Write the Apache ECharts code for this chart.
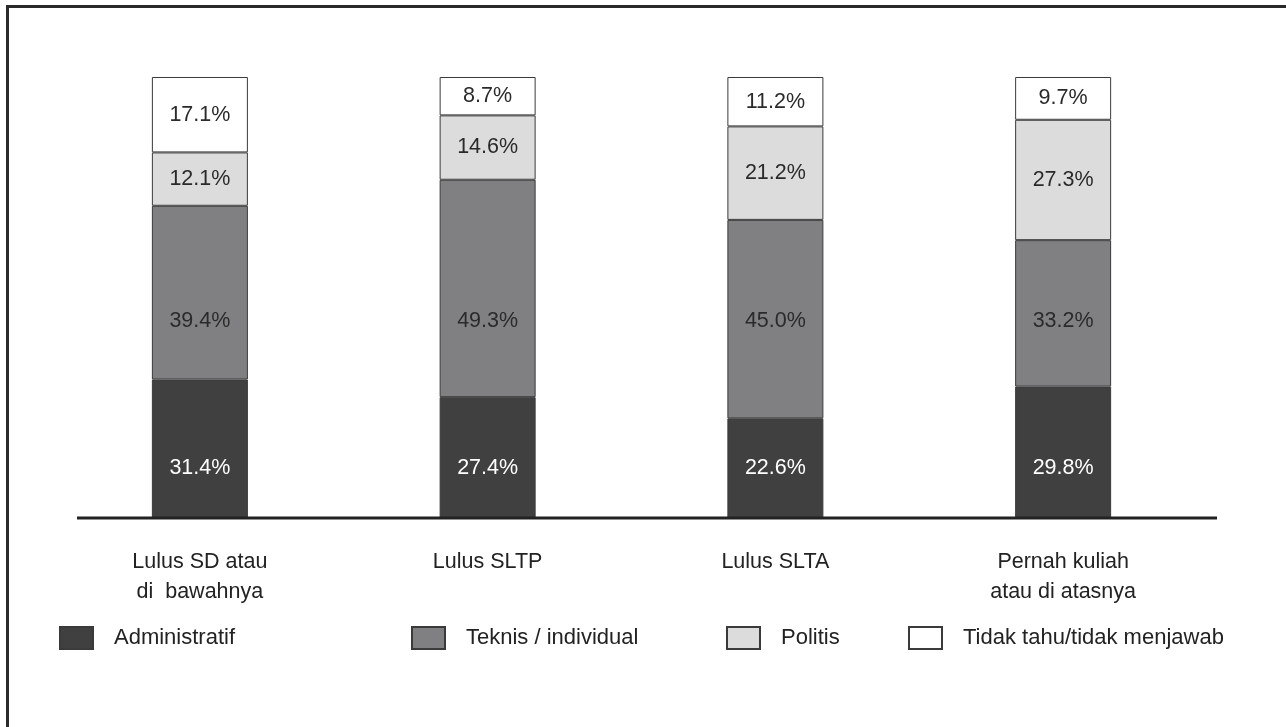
<!DOCTYPE html>
<html>
<head>
<meta charset="utf-8">
<script src="https://cdn.jsdelivr.net/npm/echarts@6/dist/echarts.min.js"></script>
<style>
  html, body { margin: 0; padding: 0; background: #fff; }
  #chart { width: 1286px; height: 727px; }
</style>
</head>
<body>
<div id="chart"></div>
<script>
// data (each column adds up to 100%)
const categories = ["Lulus SD atau\ndi  bawahnya", "Lulus SLTP", "Lulus SLTA", "Pernah kuliah\natau di atasnya"];
const administratif = [31.4, 27.4, 22.6, 29.8];
const teknis = [39.4, 49.3, 45.0, 33.2];
const politis = [12.1, 14.6, 21.2, 27.3];
const tidakTahu = [17.1, 8.7, 11.2, 9.7];
const seriesNames = ["Administratif", "Teknis / individual", "Politis", "Tidak tahu/tidak menjawab"];

const chart = echarts.init(document.getElementById("chart"));
const font = "'Liberation Sans', Arial, sans-serif";

function pct(p) {
  return p.value.toFixed(1) + "%";
}

function barSeries(name, data, color, labelColor) {
  return {
    name: name,
    type: "bar",
    stack: "total",
    barWidth: 96,
    data: data,
    itemStyle: { color: color, borderColor: "#3a3a3a", borderWidth: 1 },
    emphasis: { disabled: true },
    label: {
      show: true,
      position: "inside",
      formatter: pct,
      color: labelColor,
      fontFamily: font,
      fontSize: 21.5,
    },
  };
}

// legend items sit at their own spots, so one legend per item
const legendLeft = [54, 406, 721, 903];
const legends = seriesNames.map((name, i) => ({
  data: [name],
  left: legendLeft[i],
  top: 621,
  icon: "rect",
  itemWidth: 33,
  itemHeight: 22,
  selectedMode: false,
  textStyle: { fontFamily: font, fontSize: 22, color: "#222", padding: [0, 0, 0, 16] },
}));

const option = {
  animation: false,
  backgroundColor: "#fff",
  legend: legends,
  grid: { left: 56, right: 79, top: 77, bottom: 209 },
  xAxis: {
    type: "category",
    data: categories,
    axisLine: { show: false },
    axisTick: { show: false },
    axisLabel: {
      fontFamily: font,
      fontSize: 21.5,
      color: "#222",
      margin: 29,
      lineHeight: 30,
    },
  },
  yAxis: { type: "value", min: 0, max: 100, show: false },
  graphic: [
    {
      type: "rect",
      z: 100,
      shape: { x: 7.5, y: 6.5, width: 1400, height: 1000 },
      style: { fill: null, stroke: "#2b2b2b", lineWidth: 3 },
    },
    {
      type: "line",
      z: 100,
      shape: { x1: 77, y1: 518, x2: 1217, y2: 518 },
      style: { stroke: "#222", lineWidth: 3 },
    },
  ],
  series: [
    barSeries(seriesNames[0], administratif, "#404040", "#fff"),
    barSeries(seriesNames[1], teknis, "#808083", "#2a2a2a"),
    barSeries(seriesNames[2], politis, "#dcdcdd", "#2a2a2a"),
    barSeries(seriesNames[3], tidakTahu, "#fff", "#2a2a2a"),
  ],
};
chart.setOption(option);

// the two lower series put their labels on one common height, not in the middle of the segment
function fixedLabelOffsets(base, data, at) {
  return data.map((v, i) => {
    const b = base ? base[i] : 0;
    const mid = chart.convertToPixel({ gridIndex: 0 }, [i, b + v / 2])[1];
    const target = chart.convertToPixel({ gridIndex: 0 }, [i, at])[1];
    return { value: v, label: { offset: [0, target - mid] } };
  });
}
chart.setOption({
  series: [
    { name: seriesNames[0], data: fixedLabelOffsets(null, administratif, 11.4) },
    { name: seriesNames[1], data: fixedLabelOffsets(administratif, teknis, 44.6) },
  ],
});
</script>
</body>
</html>
